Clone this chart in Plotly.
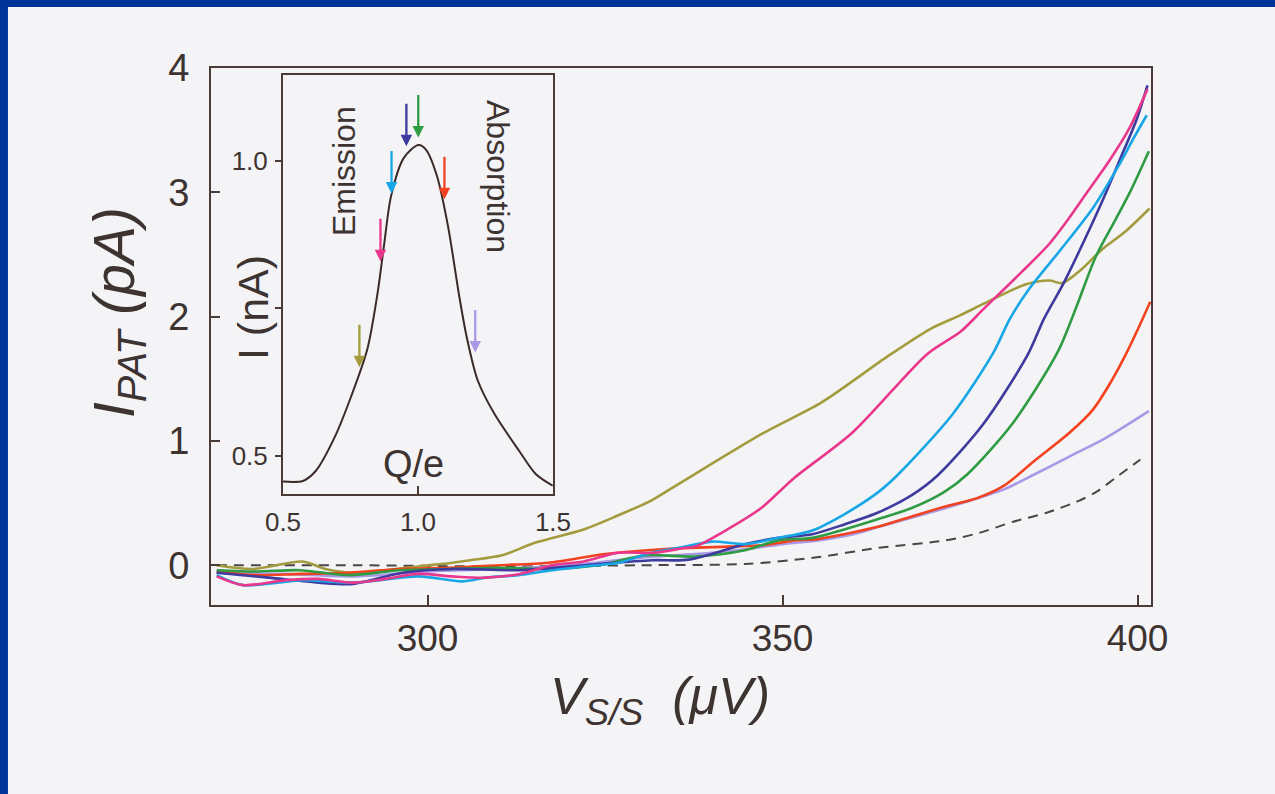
import plotly.graph_objects as go

# ---------------- data ----------------
olive_V = [270.3, 275.4, 282.4, 285.6, 289.4, 294.1, 298.7, 303.5, 306.0, 310.5, 315.1, 322.1, 326.8, 331.5,
           334.7, 347.2, 355.5, 364.8, 370.8, 375.0, 378.2, 384.3, 387.6, 389.4, 392.1, 395.0, 398.2, 401.7]
olive_I = [0.0, -0.03, 0.03, -0.03, -0.06, -0.04, -0.01, 0.02, 0.04, 0.08, 0.18, 0.29, 0.40, 0.52,
           0.63, 1.06, 1.31, 1.68, 1.90, 2.01, 2.10, 2.26, 2.29, 2.27, 2.38, 2.54, 2.68, 2.87]

magenta_V = [270.3, 274.0, 280.1, 284.5, 289.5, 294.0, 298.7, 303.5, 308.2, 313.0, 317.5, 322.0, 326.9, 332.0,
             336.3, 337.7, 342.3, 347.0, 351.6, 359.9, 370.4, 375.1, 378.3, 383.7, 387.5, 390.2, 392.9, 396.1,
             398.9, 401.4]
magenta_I = [-0.09, -0.16, -0.12, -0.11, -0.14, -0.11, -0.07, -0.09, -0.10, -0.07, 0.0, 0.03, 0.10, 0.10,
             0.14, 0.15, 0.29, 0.46, 0.70, 1.07, 1.70, 1.88, 2.06, 2.36, 2.58, 2.78, 3.00, 3.26,
             3.52, 3.83]

cyan_V = [270.3, 274.0, 282.4, 289.5, 298.7, 304.9, 308.2, 312.8, 317.6, 322.0, 326.9, 331.5, 336.3, 340.1,
          344.8, 349.4, 354.2, 358.7, 363.3, 366.1, 373.9, 379.7, 382.0, 384.7, 389.2, 393.8, 397.2, 399.5, 401.3]
cyan_I = [-0.08, -0.16, -0.12, -0.14, -0.09, -0.13, -0.10, -0.08, -0.04, -0.01, 0.02, 0.10, 0.15, 0.19,
          0.17, 0.22, 0.28, 0.41, 0.58, 0.72, 1.21, 1.71, 1.98, 2.22, 2.54, 2.88, 3.20, 3.44, 3.62]

indigo_V = [270.3, 277.6, 284.7, 289.5, 296.5, 303.5, 312.8, 322.2, 331.6, 336.8, 344.8, 349.4, 354.2,
            358.8, 363.3, 368.1, 371.8, 378.2, 384.6, 386.8, 389.6, 392.4, 395.2, 397.5, 399.9, 401.4]
indigo_I = [-0.06, -0.10, -0.14, -0.15, -0.06, -0.03, -0.04, 0.0, 0.04, 0.045, 0.17, 0.22, 0.25,
            0.33, 0.42, 0.56, 0.72, 1.13, 1.70, 1.98, 2.27, 2.60, 2.95, 3.26, 3.59, 3.86]

green_V = [270.3, 276.0, 282.0, 289.0, 296.0, 303.0, 310.0, 317.0, 324.0, 330.7, 337.7, 344.7, 349.4,
           354.2, 358.8, 363.4, 368.2, 372.8, 376.0, 382.4, 388.8, 391.4, 394.1, 396.9, 399.1, 401.6]
green_I = [-0.04, -0.05, -0.04, -0.08, -0.04, -0.03, -0.02, -0.03, 0.0, 0.08, 0.07, 0.12, 0.20,
           0.22, 0.29, 0.37, 0.46, 0.59, 0.73, 1.14, 1.72, 2.08, 2.48, 2.78, 3.02, 3.33]

red_V = [270.3, 276.0, 282.0, 289.0, 296.0, 303.0, 310.0, 317.0, 325.0, 333.5, 342.3, 347.1, 351.7,
         354.9, 358.7, 363.4, 368.1, 372.8, 377.4, 381.2, 385.7, 390.5, 393.7, 396.0, 398.3, 399.9, 401.8]
red_I = [-0.05, -0.08, -0.07, -0.06, -0.03, -0.02, 0.0, 0.02, 0.09, 0.13, 0.15, 0.16, 0.20,
         0.21, 0.25, 0.31, 0.39, 0.47, 0.54, 0.64, 0.85, 1.07, 1.25, 1.45, 1.69, 1.88, 2.12]

lavender_V = [270.3, 280.0, 290.0, 300.0, 310.0, 320.0, 330.0, 340.0, 345.0, 350.0, 355.0, 360.0, 363.0,
              368.0, 373.0, 377.0, 381.2, 385.8, 390.6, 395.1, 401.6]
lavender_I = [-0.06, -0.07, -0.09, -0.05, -0.03, 0.0, 0.06, 0.10, 0.13, 0.17, 0.20, 0.25, 0.30,
              0.38, 0.46, 0.53, 0.61, 0.74, 0.88, 1.01, 1.24]

dashed_V = [270.3, 290.0, 310.0, 330.0, 344.8, 354.3, 363.6, 373.0, 377.7, 382.5, 387.1, 391.8, 394.2,
            397.3, 400.4]
dashed_I = [0.0, 0.0, -0.01, 0.0, 0.01, 0.06, 0.14, 0.20, 0.26, 0.35, 0.42, 0.52, 0.59,
            0.72, 0.85]

# inset: I (nA) vs Q/e
inset_Q = [0.5, 0.573, 0.621, 0.692, 0.752, 0.812, 0.850, 0.875, 0.900, 0.947, 1.001, 1.030, 1.070,
           1.111, 1.153, 1.181, 1.221, 1.283, 1.375, 1.436, 1.499]
inset_I = [0.456, 0.457, 0.474, 0.532, 0.600, 0.680, 0.775, 0.860, 0.940, 1.005, 1.027, 1.019, 0.975,
           0.890, 0.770, 0.700, 0.628, 0.571, 0.508, 0.469, 0.449]

# arrows on the inset curve (Q/e position, tip current)
arrow_Q = [0.783, 0.861, 0.902, 0.957, 1.001, 1.098, 1.212]
arrow_I = [0.650, 0.830, 0.945, 1.025, 1.040, 0.935, 0.675]

# tick values / labels
main_xticks = [300, 350, 400]
main_yticks = [0, 1, 2, 3, 4]
inset_xticks = [0.5, 1.0, 1.5]
inset_yticks = [0.5, 0.75, 1.0]
inset_yticktext = ["0.5", "", "1.0"]

# ---------------- styling ----------------
C_OLIVE = "#a39c3e"
C_MAGENTA = "#e9378c"
C_CYAN = "#17a6e6"
C_INDIGO = "#3e3a9e"
C_GREEN = "#2f9b42"
C_RED = "#f2421f"
C_LAV = "#a998e6"
C_DASH = "#4a4646"
AXC = "#4a3b37"
TXT = "#3d3330"
PAPER = "#f4f4f7"
BLUE = "#00349a"
FONT = "Liberation Sans, Arial, sans-serif"

series = [
    (olive_V, olive_I, C_OLIVE),
    (lavender_V, lavender_I, C_LAV),
    (red_V, red_I, C_RED),
    (green_V, green_I, C_GREEN),
    (indigo_V, indigo_I, C_INDIGO),
    (cyan_V, cyan_I, C_CYAN),
    (magenta_V, magenta_I, C_MAGENTA),
]
arrow_colors = [C_OLIVE, C_MAGENTA, C_CYAN, C_INDIGO, C_GREEN, C_RED, C_LAV]

fig = go.Figure()

fig.add_trace(go.Scatter(x=dashed_V, y=dashed_I, mode="lines", line_shape="spline",
                         line=dict(color=C_DASH, width=2, dash="10px,7px", smoothing=0.8),
                         xaxis="x", yaxis="y", showlegend=False, hoverinfo="skip"))
for vx, iy, col in series:
    fig.add_trace(go.Scatter(x=vx, y=iy, mode="lines", line_shape="spline",
                             line=dict(color=col, width=2.6, smoothing=0.8),
                             xaxis="x", yaxis="y", showlegend=False, hoverinfo="skip"))

fig.add_trace(go.Scatter(x=inset_Q, y=inset_I, mode="lines", line_shape="spline",
                         line=dict(color="#3a2b28", width=2, smoothing=0.8),
                         xaxis="x2", yaxis="y2", showlegend=False, hoverinfo="skip"))

annotations = []
for q, i, col in zip(arrow_Q, arrow_I, arrow_colors):
    annotations.append(dict(x=q, y=i, xref="x2", yref="y2", ax=0, ay=-44, text="",
                            showarrow=True, arrowhead=2, arrowsize=1.0, arrowwidth=2.3,
                            arrowcolor=col))

def label(text, x, y, size, angle=0):
    return dict(x=x, y=y, xref="paper", yref="paper", text=text, showarrow=False,
                textangle=angle, xanchor="center", yanchor="middle",
                font=dict(family=FONT, size=size, color=TXT))

annotations += [
    label("Emission", 0.1415, 0.808, 32, -90),
    label("Absorption", 0.3053, 0.797, 32, 90),
    label("I (nA)", 0.0447, 0.553, 43, -90),
    label("Q/e", 0.2149, 0.2626, 38),
    label("<i>I<sub>PAT</sub> (pA)</i>", -0.0989, 0.5438, 57, -90),
    label("<i>V<sub>S/S</sub>  (μV)</i>", 0.4777, -0.177, 52),
]

shapes = [
    dict(type="rect", xref="paper", yref="paper", x0=-0.2245, x1=-0.2160, y0=-0.36, y1=1.13,
         fillcolor=BLUE, line=dict(width=0), layer="above"),
    dict(type="rect", xref="paper", yref="paper", x0=-0.2245, x1=1.14, y0=1.1136, y1=1.13,
         fillcolor=BLUE, line=dict(width=0), layer="above"),
]

fig.update_layout(
    width=1275, height=794,
    margin=dict(l=211, r=124, t=68, b=189),
    paper_bgcolor=PAPER, plot_bgcolor=PAPER,
    font=dict(family=FONT, color=TXT),
    showlegend=False,
    annotations=annotations,
    shapes=shapes,
    xaxis=dict(range=[269.5, 401.9], tickvals=main_xticks, ticks="inside", ticklen=10, tickwidth=2,
               tickcolor=AXC, showline=True, linecolor=AXC, linewidth=2, mirror=True,
               showgrid=False, zeroline=False, tickfont=dict(size=37, color=TXT),
               ticklabelstandoff=0),
    yaxis=dict(range=[-0.32, 4.0], tickvals=main_yticks, ticks="inside", ticklen=9, tickwidth=2,
               tickcolor=AXC, showline=True, linecolor=AXC, linewidth=2, mirror=True,
               showgrid=False, zeroline=False, tickfont=dict(size=38, color=TXT),
               ticklabelstandoff=12),
    xaxis2=dict(domain=[0.0766, 0.3638], anchor="y2", range=[0.5, 1.5], tickvals=inset_xticks,
                ticktext=["0.5", "1.0", "1.5"], ticks="inside", ticklen=8, tickwidth=1.5,
                tickcolor=AXC, showline=True, linecolor=AXC, linewidth=2, mirror=True,
                showgrid=False, zeroline=False, tickfont=dict(size=26, color=TXT),
                ticklabelstandoff=4),
    yaxis2=dict(domain=[0.2067, 0.987], anchor="x2", range=[0.435, 1.146], tickvals=inset_yticks,
                ticktext=inset_yticktext, ticks="outside", ticklen=6, tickwidth=1.5,
                tickcolor=AXC, showline=True, linecolor=AXC, linewidth=2, mirror=True,
                showgrid=False, zeroline=False, tickfont=dict(size=26, color=TXT),
                ticklabelstandoff=2),
)

fig.write_html("out.html")
